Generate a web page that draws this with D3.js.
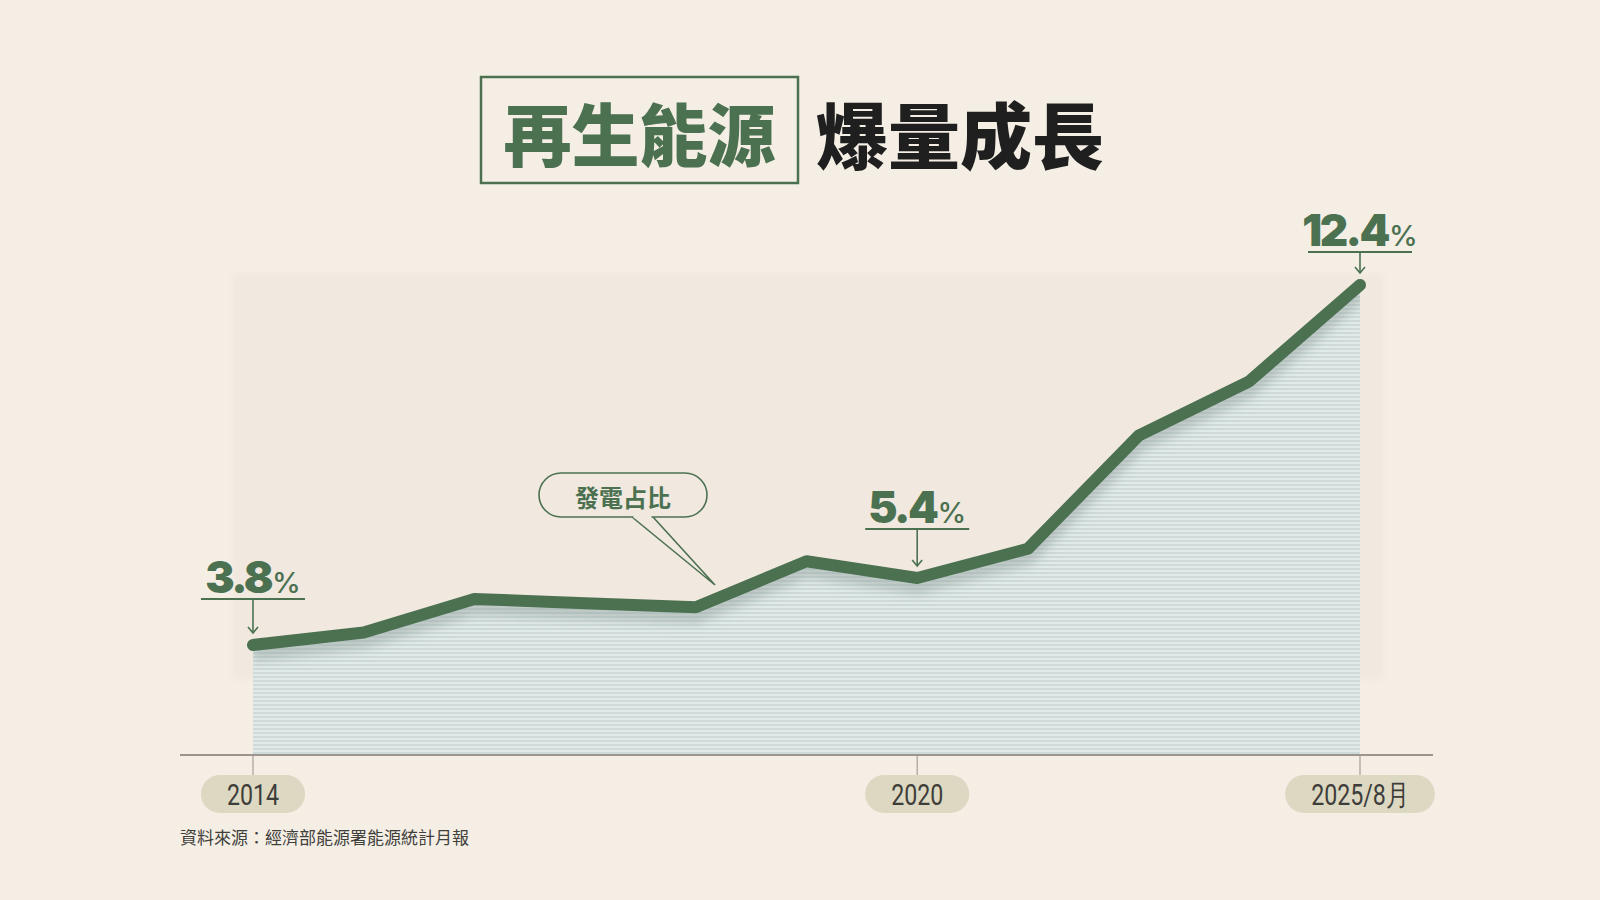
<!DOCTYPE html>
<html>
<head>
<meta charset="utf-8">
<script src="https://cdn.jsdelivr.net/npm/d3@7"></script>
<style>
  html, body { margin: 0; padding: 0; background: #f5eee5; }
  svg { display: block; }
</style>
</head>
<body>
<div id="chart"></div>
<script>
// --- Data ---
const years = ['2014', '2015', '2016', '2017', '2018', '2019', '2020', '2021', '2022', '2023', '2025/8月'];
const shares = [3.8, 4.1, 4.9, 4.8, 4.7, 5.8, 5.4, 6.1, 8.8, 10.1, 12.4];
const tickLabels = ['2014', '2020', '2025/8月'];
const callouts = ['2014', '2020', '2025/8月'];   // points that get a big % label
const titleBoxed = '再生能源';
const titleRest = '爆量成長';
const bubbleText = '發電占比';
const sourceText = '資料來源：經濟部能源署能源統計月報';

const W = 1600, H = 900;
const green = '#4b7151';
const axisY = 755;
// distance from point to the label underline (layout only)
const calloutGap = { '2014': 46, '2020': 49, '2025/8月': 33 };

const data = years.map((c, i) => ({ cat: c, v: shares[i] }));

const svg = d3.select('#chart').append('svg')
    .attr('width', W)
    .attr('height', H);

const defs = svg.append('defs');

// horizontal stripes for the area
const pat = defs.append('pattern')
    .attr('id', 'stripes')
    .attr('patternUnits', 'userSpaceOnUse')
    .attr('width', 8).attr('height', 4);
pat.append('rect').attr('width', 8).attr('height', 4).attr('fill', '#e2eae7');
pat.append('rect').attr('width', 8).attr('height', 2).attr('fill', '#cddad9');

const blur = defs.append('filter').attr('id', 'soft')
    .attr('x', '-10%').attr('y', '-10%').attr('width', '120%').attr('height', '130%');
blur.append('feGaussianBlur').attr('stdDeviation', 5);

const panelBlur = defs.append('filter').attr('id', 'panelBlur')
    .attr('x', '-5%').attr('y', '-5%').attr('width', '110%').attr('height', '110%');
panelBlur.append('feGaussianBlur').attr('stdDeviation', 3);

// --- background ---
svg.append('rect').attr('width', W).attr('height', H).attr('fill', '#f5eee5');
svg.append('rect')
    .attr('x', 233).attr('y', 274)
    .attr('width', 1150).attr('height', 405)
    .attr('fill', '#f1e8df')
    .attr('filter', 'url(#panelBlur)');

// --- Title ---
const title = svg.append('g').attr('class', 'title');
title.append('rect')
    .attr('x', 481).attr('y', 77)
    .attr('width', 317).attr('height', 106)
    .attr('fill', 'none')
    .attr('stroke', green)
    .attr('stroke-width', 2.5);
title.append('text')
    .attr('x', 639.5).attr('y', 131)
    .attr('text-anchor', 'middle')
    .attr('dominant-baseline', 'central')
    .attr('font-family', '"Noto Sans CJK TC", "Noto Sans CJK SC", sans-serif')
    .attr('font-weight', 900)
    .attr('font-size', 68)
    .attr('fill', green)
    .text(titleBoxed);
title.append('text')
    .attr('x', 816).attr('y', 131)
    .attr('dominant-baseline', 'central')
    .attr('font-family', '"Noto Sans CJK TC", "Noto Sans CJK SC", sans-serif')
    .attr('font-weight', 900)
    .attr('font-size', 72)
    .attr('fill', '#1f1f1f')
    .text(titleRest);

// --- Scales ---
const x = d3.scalePoint()
    .domain(years)
    .range([253, 1360]);

const y = d3.scaleLinear()
    .domain(d3.extent(shares))
    .range([645, 285]);

// --- Area + line ---
const area = d3.area()
    .x(d => x(d.cat))
    .y0(axisY)
    .y1(d => y(d.v));

const line = d3.line()
    .x(d => x(d.cat))
    .y(d => y(d.v));

defs.append('clipPath').attr('id', 'areaClip')
    .append('path').attr('d', area(data));

svg.append('path')
    .attr('d', area(data))
    .attr('fill', 'url(#stripes)');

// soft shadow under the line, kept inside the area
svg.append('g')
    .attr('clip-path', 'url(#areaClip)')
    .append('path')
    .attr('d', line(data))
    .attr('transform', 'translate(0,8)')
    .attr('fill', 'none')
    .attr('stroke', '#8d9c9a')
    .attr('stroke-width', 16)
    .attr('opacity', 0.45)
    .attr('filter', 'url(#soft)');

svg.append('path')
    .attr('d', line(data))
    .attr('fill', 'none')
    .attr('stroke', green)
    .attr('stroke-width', 12)
    .attr('stroke-linejoin', 'round')
    .attr('stroke-linecap', 'round');

// --- Axis ---
svg.append('line')
    .attr('x1', 180).attr('x2', 1433)
    .attr('y1', axisY).attr('y2', axisY)
    .attr('stroke', '#9b958d')
    .attr('stroke-width', 2);

const ticks = svg.append('g').attr('class', 'x-ticks');
tickLabels.forEach(t => {
    const tx = x(t);
    const tg = ticks.append('g');
    tg.append('line')
        .attr('x1', tx).attr('x2', tx)
        .attr('y1', axisY).attr('y2', 778)
        .attr('stroke', '#a59f96')
        .attr('stroke-width', 1.2);
    const pill = tg.append('rect')
        .attr('y', 775).attr('height', 38)
        .attr('rx', 19)
        .attr('fill', '#ddd8c1');
    // condensed look: squeeze the text horizontally
    const txt = tg.append('text')
        .attr('transform', `translate(${tx},795) scale(0.8,1)`)
        .attr('text-anchor', 'middle')
        .attr('dominant-baseline', 'central')
        .attr('font-family', 'Roboto, "Liberation Sans", sans-serif')
        .attr('font-weight', 400)
        .attr('font-size', 29)
        .attr('fill', '#3d3d3a')
        .text(t);
    const w = txt.node().getComputedTextLength() * 0.8 + 52;
    pill.attr('x', tx - w / 2).attr('width', w);
});

// --- Value callouts ---
const marks = svg.append('g').attr('class', 'value-marks');
data.filter(d => callouts.includes(d.cat)).forEach(d => {
    const px = x(d.cat), py = y(d.v);
    const g = marks.append('g');
    const lineY = py - calloutGap[d.cat];
    g.append('line')
        .attr('x1', px - 52).attr('x2', px + 52)
        .attr('y1', lineY).attr('y2', lineY)
        .attr('stroke', green).attr('stroke-width', 1.8);
    g.append('line')
        .attr('x1', px).attr('x2', px)
        .attr('y1', lineY).attr('y2', py - 12)
        .attr('stroke', green).attr('stroke-width', 1.6);
    g.append('path')
        .attr('d', `M${px - 5},${py - 18} L${px},${py - 12} L${px + 5},${py - 18}`)
        .attr('fill', 'none')
        .attr('stroke', green).attr('stroke-width', 1.6);

    const t = g.append('text')
        .attr('x', px).attr('y', lineY - 6)
        .attr('text-anchor', 'middle')
        .attr('fill', green);
    t.append('tspan')
        .attr('font-family', 'Inter, "Open Sans", sans-serif')
        .attr('font-weight', 900)
        .attr('font-size', 44)
        .attr('letter-spacing', -2.5)
        .text(d.v.toFixed(1));
    t.append('tspan')
        .attr('dx', 1)
        .attr('font-family', 'Inter, "Open Sans", sans-serif')
        .attr('font-weight', 500)
        .attr('font-size', 29)
        .text('%');
});

// --- Speech bubble ---
const bubble = svg.append('g').attr('class', 'bubble');
bubble.append('path')
    .attr('d', 'M632,517 L715,585 L653,517')
    .attr('fill', '#f1e8df')
    .attr('stroke', green)
    .attr('stroke-width', 1.6)
    .attr('stroke-linejoin', 'miter');
bubble.append('rect')
    .attr('x', 539).attr('y', 473)
    .attr('width', 168).attr('height', 44)
    .attr('rx', 22)
    .attr('fill', '#f1e8df')
    .attr('stroke', green)
    .attr('stroke-width', 1.6);
// hide the rect stroke where the tail joins
bubble.append('line')
    .attr('x1', 633.5).attr('x2', 651.5)
    .attr('y1', 517).attr('y2', 517)
    .attr('stroke', '#f1e8df')
    .attr('stroke-width', 2.4);
bubble.append('text')
    .attr('x', 623).attr('y', 496)
    .attr('text-anchor', 'middle')
    .attr('dominant-baseline', 'central')
    .attr('font-family', '"Noto Sans CJK TC", sans-serif')
    .attr('font-weight', 700)
    .attr('font-size', 24)
    .attr('fill', green)
    .text(bubbleText);

// --- Source ---
svg.append('text')
    .attr('x', 180).attr('y', 844)
    .attr('font-family', '"Noto Sans CJK TC", sans-serif')
    .attr('font-size', 17)
    .attr('fill', '#3f3f3c')
    .text(sourceText);
</script>
</body>
</html>
